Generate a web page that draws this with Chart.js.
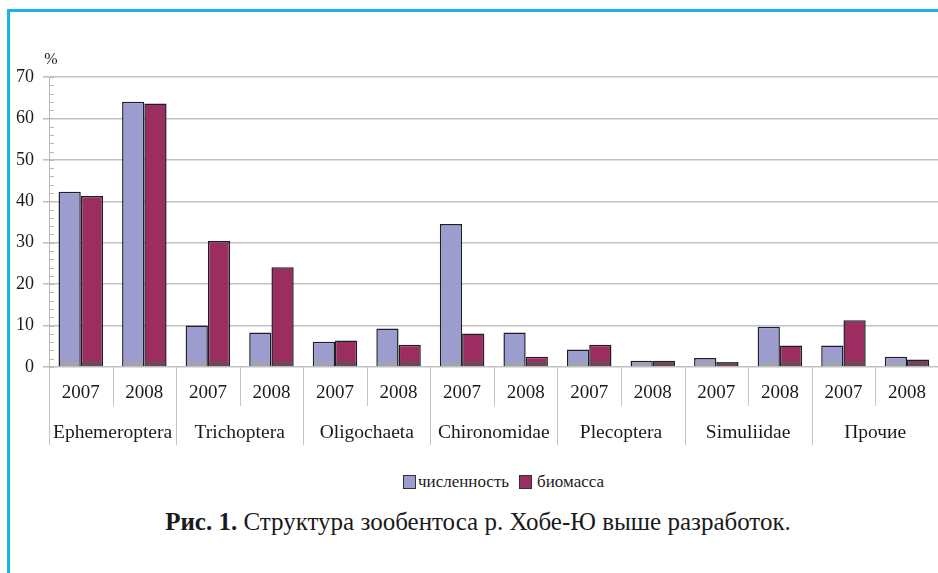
<!DOCTYPE html>
<html>
<head>
<meta charset="utf-8">
<script src="https://cdn.jsdelivr.net/npm/chart.js@4.4.0/dist/chart.umd.min.js"></script>
<style>
  html, body { margin: 0; padding: 0; background: #fff; overflow: hidden; }
  body { width: 938px; height: 573px; position: relative; font-family: "Liberation Serif", Tinos, "Times New Roman", Times, "DejaVu Serif", serif; color: #1a1a1a; }
  #frame { position: absolute; left: 7px; top: 9px; width: 960px; height: 600px; border-top: 3px solid #19b1ee; border-left: 3px solid #19b1ee; }
  #chart { position: absolute; left: 0; top: 0; }
  #legend { position: absolute; top: 472px; left: 403px; font-size: 17px; display: flex; align-items: center; }
  #legend .item { display: flex; align-items: center; margin-right: 10px; }
  #legend .box { width: 11px; height: 12px; border: 1.5px solid #333; margin-right: 2px; }
  #legend .item + .item .box { margin-right: 5px; }
  #caption { position: absolute; top: 508px; left: 0; width: 956px; text-align: center; font-size: 25px; }
</style>
</head>
<body>
<div id="frame"></div>
<canvas id="chart" width="941" height="460"></canvas>
<div id="legend"></div>
<div id="caption"><b>Рис. 1.</b> Структура зообентоса р. Хобе-Ю выше разработок.</div>
<script>
// groups and years on the x axis
const groups = ['Ephemeroptera', 'Trichoptera', 'Oligochaeta', 'Chironomidae', 'Plecoptera', 'Simuliidae', 'Прочие'];
const years = ['2007', '2008'];

// % values, two years per group
const abundance = [42.3, 64.0, 10.0, 8.3, 6.1, 9.3, 34.5, 8.3, 4.2, 1.5, 2.2, 9.7, 5.2, 2.5];
const biomass = [41.3, 63.6, 30.4, 24.1, 6.4, 5.4, 8.1, 2.5, 5.4, 1.5, 1.2, 5.2, 11.3, 1.8];

const seriesNames = ['численность', 'биомасса'];
const seriesColors = ['#9c9ccf', '#9c2d60'];
const floorColors = ['#a4a4a4', '#555555'];

const yMin = 0, yMax = 70, yStep = 10, yMinorStep = 2;

const labels = [];
groups.forEach(() => years.forEach(y => labels.push(y)));

const FONT = '"Liberation Serif", Tinos, "Times New Roman", Times, "DejaVu Serif", serif';
const TEXT = '#1a1a1a';

// separators, group names, minor ticks, "%" sign
const groupAxis = {
  id: 'groupAxis',
  afterDatasetsDraw(chart) {
    const ctx = chart.ctx;
    ctx.save();
    chart.data.datasets.forEach((ds, di) => {
      chart.getDatasetMeta(di).data.forEach(bar => {
        const w = bar.width - 3;
        ctx.fillStyle = floorColors[di];
        ctx.fillRect(bar.x - w / 2, bar.base - 4, w, 3);
      });
    });
    ctx.restore();
  },
  afterDraw(chart) {
    const ctx = chart.ctx, x = chart.scales.x, y = chart.scales.y;
    const base = y.getPixelForValue(0);
    const half = (x.getPixelForValue(1) - x.getPixelForValue(0)) / 2;
    ctx.save();
    ctx.strokeStyle = '#c4c4c4';
    ctx.lineWidth = 1;
    for (let i = 0; i <= labels.length; i++) {
      const px = Math.round(x.getPixelForValue(i) - half) + 0.5;
      const isGroup = i % years.length === 0;
      ctx.beginPath();
      ctx.moveTo(px, base);
      ctx.lineTo(px, base + (isGroup ? 78 : 39));
      ctx.stroke();
    }
    ctx.font = '19.5px ' + FONT;
    ctx.fillStyle = TEXT;
    ctx.textAlign = 'center';
    ctx.textBaseline = 'middle';
    groups.forEach((g, gi) => {
      const cx = (x.getPixelForValue(gi * 2) + x.getPixelForValue(gi * 2 + 1)) / 2;
      ctx.fillText(g, cx, base + 66);
    });
    // minor ticks inside the axis
    ctx.strokeStyle = '#b8b8b8';
    for (let v = yMin; v <= yMax; v += yMinorStep) {
      const py = Math.round(y.getPixelForValue(v)) + 0.5;
      ctx.beginPath();
      ctx.moveTo(y.right, py);
      ctx.lineTo(y.right + 5, py);
      ctx.stroke();
    }
    ctx.font = '16px ' + FONT;
    ctx.fillText('%', y.right + 2, y.top - 17);
    ctx.restore();
  }
};

const data = {
  labels,
  datasets: [
    { label: seriesNames[0], data: abundance, backgroundColor: seriesColors[0] },
    { label: seriesNames[1], data: biomass, backgroundColor: seriesColors[1] }
  ].map(ds => Object.assign(ds, {
    borderColor: '#1e1e2a',
    borderWidth: 1.5,
    categoryPercentage: 0.7,
    barPercentage: 1
  }))
};

const config = {
  type: 'bar',
  data,
  options: {
    responsive: false,
    animation: false,
    devicePixelRatio: 1,
    layout: { padding: { top: 77, right: 0, bottom: 0, left: 0 } },
    plugins: {
      legend: { display: false },
      tooltip: { enabled: false }
    },
    scales: {
      x: {
        grid: { display: false, drawTicks: false },
        border: { display: false },
        ticks: { padding: 15, color: TEXT, font: { family: FONT, size: 19 }, maxRotation: 0, autoSkip: false },
        afterFit(s) { s.height = 93; }
      },
      y: {
        min: yMin,
        max: yMax,
        ticks: { stepSize: yStep, padding: 9, color: TEXT, font: { family: FONT, size: 18 } },
        grid: { color: '#c2c2c2', lineWidth: 1.5, tickLength: 6, tickColor: '#bdbdbd' },
        border: { color: '#b8b8b8', width: 1 },
        afterFit(s) { s.width = 49; }
      }
    }
  },
  plugins: [groupAxis]
};

const chart = new Chart(document.getElementById('chart'), config);

// legend built from the series
const legend = document.getElementById('legend');
seriesNames.forEach((name, i) => {
  const item = document.createElement('span');
  item.className = 'item';
  const box = document.createElement('span');
  box.className = 'box';
  box.style.background = seriesColors[i];
  const txt = document.createElement('span');
  txt.textContent = name;
  item.appendChild(box);
  item.appendChild(txt);
  legend.appendChild(item);
});
</script>
</body>
</html>
